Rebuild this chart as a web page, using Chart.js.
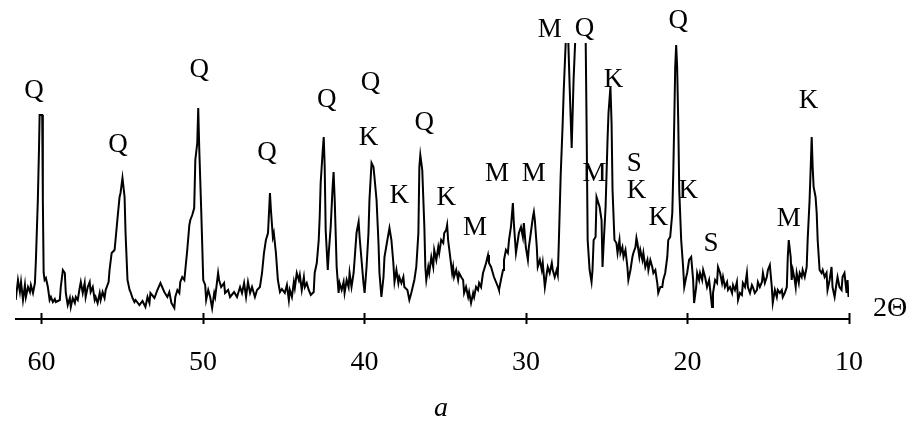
<!DOCTYPE html>
<html>
<head>
<meta charset="utf-8">
<script src="https://cdn.jsdelivr.net/npm/chart.js@4.4.1/dist/chart.umd.min.js"></script>
<style>
  html, body { margin: 0; padding: 0; background: #fff; }
  #wrap { width: 913px; height: 421px; position: relative; }
</style>
</head>
<body>
<div id="wrap"><canvas id="c" width="913" height="421"></canvas></div>
<script>
// 2θ (degrees) and intensity (arbitrary units)
const twoTheta = [
61.59,61.45,61.33,61.26,61.14,61.02,60.96,60.83,60.71,60.65,60.52,60.40,60.34,60.22,60.15,60.11,59.95,59.91,59.86,59.80,
59.72,59.60,59.49,59.41,59.29,59.17,59.11,58.86,58.80,58.67,58.55,58.49,58.37,58.24,58.18,58.06,57.93,57.87,57.75,57.63,
57.56,57.44,57.32,57.26,57.13,57.01,56.95,56.82,56.70,56.64,56.52,56.39,56.33,56.21,56.09,56.02,55.84,55.78,55.65,55.47,
55.41,55.28,55.16,55.10,54.98,54.85,54.79,54.67,54.54,54.48,54.36,54.24,54.17,53.93,53.74,53.56,53.43,53.31,53.25,53.00,
52.82,52.63,52.39,52.20,52.08,51.95,51.77,51.71,51.58,51.46,51.40,51.28,51.15,51.09,50.97,50.84,50.78,50.66,50.54,50.47,
50.35,50.29,50.23,50.10,49.98,49.86,49.80,49.67,49.55,49.43,49.30,49.24,49.06,49.00,48.87,48.69,48.63,48.44,48.32,48.07,
47.89,47.70,47.58,47.45,47.33,47.21,47.08,46.96,46.78,46.65,46.47,46.34,46.22,46.10,45.97,45.85,45.79,45.67,45.61,45.48,
45.36,45.23,45.11,44.93,44.80,44.68,44.62,44.49,44.37,44.31,44.19,44.06,44.00,43.88,43.75,43.69,43.57,43.45,43.32,43.14,
43.08,42.95,42.83,42.77,42.71,42.58,42.52,42.46,42.40,42.27,42.21,42.09,41.97,41.91,41.84,41.72,41.60,41.54,41.41,41.29,
41.23,41.10,40.98,40.92,40.80,40.67,40.61,40.49,40.36,40.30,40.18,40.06,39.99,39.87,39.75,39.69,39.56,39.44,39.38,39.25,
39.13,39.07,38.95,38.82,38.76,38.58,38.45,38.33,38.21,38.14,38.02,37.90,37.84,37.71,37.59,37.53,37.34,37.22,37.10,36.91,
36.79,36.66,36.60,36.54,36.42,36.29,36.23,36.17,36.05,35.99,35.86,35.74,35.68,35.55,35.43,35.37,35.25,35.12,35.06,34.94,
34.88,34.82,34.69,34.57,34.51,34.45,34.32,34.20,34.14,34.01,33.89,33.83,33.71,33.58,33.52,33.40,33.27,33.21,33.09,32.97,
32.90,32.78,32.66,32.60,32.47,32.35,32.29,32.16,31.98,31.73,31.67,31.55,31.42,31.36,31.24,31.12,31.05,30.93,30.81,30.75,
30.62,30.50,30.44,30.31,30.19,30.13,30.01,29.88,29.82,29.70,29.57,29.51,29.45,29.33,29.27,29.14,29.02,28.96,28.83,28.71,
28.65,28.53,28.40,28.34,28.22,28.10,28.03,27.97,27.85,27.73,27.66,27.54,27.48,27.42,27.29,27.17,27.05,26.92,26.80,26.62,
26.43,26.31,26.25,26.18,26.06,25.94,25.88,25.81,25.69,25.63,25.57,25.44,25.32,25.26,25.20,25.07,24.95,24.89,24.77,24.70,
24.64,24.52,24.40,24.33,24.21,24.15,24.03,23.96,23.84,23.72,23.66,23.53,23.41,23.35,23.22,23.16,23.10,22.98,22.92,22.79,
22.73,22.61,22.48,22.42,22.30,22.18,22.11,21.99,21.87,21.81,21.68,21.56,21.50,21.38,21.25,21.19,21.07,20.94,20.88,20.82,
20.76,20.70,20.64,20.57,20.51,20.39,20.27,20.20,20.08,20.02,19.90,19.77,19.65,19.59,19.46,19.40,19.28,19.22,19.09,19.03,
18.91,18.79,18.66,18.48,18.42,18.29,18.17,18.11,17.98,17.86,17.80,17.68,17.55,17.49,17.37,17.24,17.18,17.06,16.94,16.87,
16.75,16.63,16.57,16.44,16.32,16.26,16.13,16.01,15.95,15.83,15.70,15.64,15.52,15.39,15.33,15.21,15.09,15.02,14.90,14.78,
14.72,14.59,14.47,14.41,14.28,14.16,14.10,13.98,13.85,13.79,13.73,13.61,13.55,13.48,13.36,13.30,13.24,13.11,13.05,12.93,
12.87,12.74,12.62,12.56,12.44,12.37,12.31,12.25,12.19,12.07,12.00,11.94,11.82,11.70,11.63,11.51,11.39,11.33,11.20,11.08,
11.02,10.89,10.77,10.71,10.59,10.46,10.40,10.28,10.15,10.09,10.03
];
const intensity = [
19,39,27,37,19,34,22,32,27,34,26,36,59,119,169,204,204,119,46,39,
41,32,19,22,17,20,17,19,32,49,46,26,14,21,12,21,16,22,19,31,
37,26,36,22,32,37,27,32,19,22,16,26,19,27,21,29,37,49,66,69,
79,102,122,126,141,122,86,39,29,27,21,17,19,14,18,12,22,16,26,21,
29,36,27,22,27,16,11,22,29,26,37,42,39,49,69,94,99,104,111,159,
176,211,172,106,39,34,19,29,22,11,26,22,46,39,32,36,26,29,22,27,
22,32,26,36,22,37,26,32,22,29,32,46,66,79,86,126,109,82,86,66,
39,27,30,26,34,19,29,22,37,31,46,39,44,29,42,32,36,29,24,27,
46,56,79,102,136,169,182,152,89,49,66,92,132,147,119,52,26,36,29,37,
26,39,32,46,32,46,59,86,97,82,59,36,26,52,86,119,156,152,142,119,
76,46,22,42,62,79,91,79,56,37,49,36,42,36,42,32,29,19,26,39,
52,86,152,164,149,92,52,39,52,46,62,52,69,59,72,66,79,76,86,89,
94,79,62,46,52,42,49,39,46,42,39,26,32,22,27,16,26,22,32,29,
36,32,46,49,56,64,56,52,42,32,29,39,49,59,69,66,79,92,116,96,
66,79,86,92,82,96,72,59,72,86,102,107,99,72,52,59,49,56,32,46,
52,46,56,49,42,49,44,74,144,194,229,276,330,300,230,171,240,290,330,380,
340,290,200,79,49,37,49,79,82,122,119,112,99,52,72,112,179,206,232,196,
129,79,76,66,79,66,72,62,69,52,39,49,62,66,72,81,76,62,69,59,
66,52,59,49,59,52,46,49,36,26,32,32,39,46,62,79,82,106,146,196,
252,274,252,196,129,79,52,32,42,46,59,62,39,16,32,46,39,46,39,49,
42,32,39,12,26,39,36,52,46,36,42,32,37,29,32,26,34,29,37,19,
26,24,36,32,46,32,26,34,32,26,29,37,32,37,46,36,42,49,54,32,
16,29,22,29,26,29,22,26,32,62,79,62,39,49,39,32,46,36,46,42,
49,42,52,79,119,152,182,152,132,122,106,79,49,46,49,42,46,29,39,52,
32,22,36,42,32,29,42,46,26,39,22
];
// axis tick labels
const tickValues = [60, 50, 40, 30, 20, 10];
// phase marks: Q – quartz, K – kaolinite, M – mica, S – smectite
const phaseLabels = ['Q','Q','Q','Q','Q','Q','K','K','Q','K','M','M','M','M','Q','K','M','S','K','K','K','Q','S','M','K'];
const labelAt     = [60.46,55.25,50.23,46.04,42.34,39.62,39.75,37.84,36.30,34.94,33.15,31.80,29.51,28.53,26.37,24.58,25.75,23.29,23.16,21.81,19.96,20.57,18.54,13.73,12.50];
const labelLevel  = [221,167,242,159,212,229,174,116,189,114,84,138,138,282,283,232,138,148,121,94,121,291,68,93,211];
const axisName = '2Θ';
const panelName = 'a';

const points = twoTheta.map((t, i) => ({ x: t, y: intensity[i] }));

const SERIF = '"Liberation Serif", "Times New Roman", serif';

const overlay = {
  id: 'overlay',
  afterDraw(chart) {
    const { ctx, chartArea, scales } = chart;
    const xs = scales.x, ys = scales.y;
    ctx.save();
    ctx.fillStyle = '#000';
    ctx.strokeStyle = '#000';
    // crossing tick marks
    ctx.lineWidth = 2;
    xs.ticks.forEach(t => {
      const px = Math.round(xs.getPixelForValue(t.value)) + 0.5;
      ctx.beginPath();
      ctx.moveTo(px, chartArea.bottom - 6);
      ctx.lineTo(px, chartArea.bottom + 5);
      ctx.stroke();
    });
    // phase labels
    ctx.font = '27px ' + SERIF;
    ctx.textAlign = 'center';
    ctx.textBaseline = 'alphabetic';
    phaseLabels.forEach((s, i) => {
      ctx.fillText(s, xs.getPixelForValue(labelAt[i]), ys.getPixelForValue(labelLevel[i]));
    });
    // axis name
    ctx.font = '28px ' + SERIF;
    ctx.textAlign = 'left';
    ctx.fillText(axisName, chartArea.right + 24, chartArea.bottom - 3);
    // panel letter
    ctx.font = 'italic 28px ' + SERIF;
    ctx.textAlign = 'center';
    ctx.fillText(panelName, 441, 416);
    ctx.restore();
  }
};

new Chart(document.getElementById('c'), {
  type: 'line',
  data: {
    datasets: [{
      data: points,
      borderColor: '#000',
      borderWidth: 2,
      pointRadius: 0,
      tension: 0,
      fill: false,
      clip: 0
    }]
  },
  options: {
    responsive: false,
    animation: false,
    parsing: true,
    layout: { padding: { left: 13, right: 64, top: 43, bottom: 0 } },
    plugins: { legend: { display: false }, tooltip: { enabled: false } },
    scales: {
      x: {
        type: 'linear',
        reverse: true,
        min: 10,
        max: 61.57,
        afterBuildTicks: s => { s.ticks = tickValues.map(v => ({ value: v })); },
        afterFit: s => { s.height = 102; },
        grid: { display: false, drawTicks: false },
        border: { display: true, color: '#000', width: 2 },
        ticks: {
          autoSkip: false,
          maxRotation: 0,
          padding: 27,
          color: '#000',
          font: { family: SERIF, size: 28 },
          callback: v => String(v)
        }
      },
      y: {
        display: false,
        min: 0,
        max: 276
      }
    }
  },
  plugins: [overlay]
});
</script>
</body>
</html>
